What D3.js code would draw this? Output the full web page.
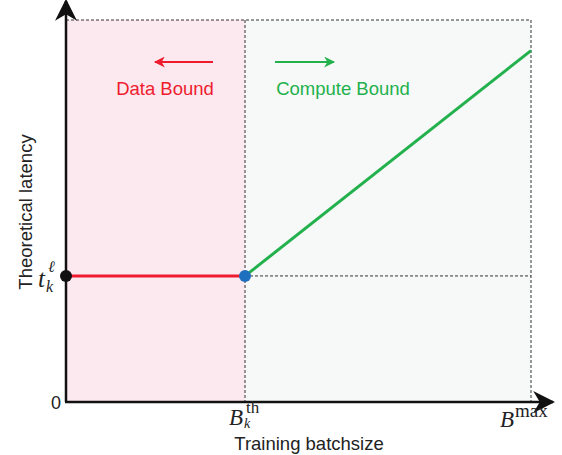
<!DOCTYPE html>
<html>
<head>
<meta charset="utf-8">
<script src="https://cdn.jsdelivr.net/npm/d3@7"></script>
<style>
  body { margin: 0; background: #fff; }
  text { font-family: Arial, "Liberation Sans", sans-serif; }
  .math { font-family: "Liberation Serif", "DejaVu Serif", serif; fill: #222; }
</style>
</head>
<body>
<svg width="562" height="455"></svg>
<script>
// batchsize positions (B_th, B_max) and latency levels
const batchTicks = [38.5, 100]
const latencyFlat = 33
const dataBound = [[0, latencyFlat], [38.5, latencyFlat]]
const computeBound = [[38.5, latencyFlat], [100, 92]]
const yTop = 100

const svg = d3.select('svg')
const x = d3.scaleLinear().domain([0, 100]).range([66, 531])
const y = d3.scaleLinear().domain([0, yTop]).range([402, 20])

const red = '#ee1c2e', green = '#22b14c', blue = '#1f6fbf'

// background regions
svg.append('rect')
	.attr('x', x(0)).attr('y', y(yTop))
	.attr('width', x(batchTicks[0]) - x(0))
	.attr('height', y(0) - y(yTop))
	.attr('fill', '#fce8ef')
svg.append('rect')
	.attr('x', x(batchTicks[0])).attr('y', y(yTop))
	.attr('width', x(batchTicks[1]) - x(batchTicks[0]))
	.attr('height', y(0) - y(yTop))
	.attr('fill', '#f7f9f9')

// dashed guides
const dashed = [
	[[0, yTop], [100, yTop]],
	[[100, yTop], [100, 0]],
	[[batchTicks[0], yTop], [batchTicks[0], 0]],
	[[batchTicks[0], latencyFlat], [100, latencyFlat]]
]
svg.selectAll('.guide')
	.data(dashed)
	.enter()
	.append('line')
	.attr('x1', d => x(d[0][0])).attr('y1', d => y(d[0][1]))
	.attr('x2', d => x(d[1][0])).attr('y2', d => y(d[1][1]))
	.attr('stroke', '#333')
	.attr('stroke-width', 1)
	.attr('stroke-dasharray', '3,2')

// arrowheads
const defs = svg.append('defs')
function marker(id, color, w, h) {
	defs.append('marker')
		.attr('id', id)
		.attr('viewBox', '0 0 10 10')
		.attr('refX', 9).attr('refY', 5)
		.attr('markerWidth', w).attr('markerHeight', h)
		.attr('markerUnits', 'userSpaceOnUse')
		.attr('orient', 'auto')
		.append('path')
		.attr('d', 'M0,0 L10,5 L0,10 L3,5 Z')
		.attr('fill', color)
}
marker('axisArrow', '#111', 22, 22)
marker('redArrow', red, 12, 11)
marker('greenArrow', green, 12, 11)

// axes
svg.append('line')
	.attr('x1', x(0)).attr('y1', y(0))
	.attr('x2', x(0)).attr('y2', 1)
	.attr('stroke', '#111').attr('stroke-width', 2.5)
	.attr('marker-end', 'url(#axisArrow)')
svg.append('line')
	.attr('x1', x(0) - 1).attr('y1', y(0))
	.attr('x2', 553).attr('y2', y(0))
	.attr('stroke', '#111').attr('stroke-width', 2.5)
	.attr('marker-end', 'url(#axisArrow)')

// lines
const line = d3.line().x(d => x(d[0])).y(d => y(d[1]))
svg.append('path').datum(dataBound)
	.attr('d', line).attr('fill', 'none')
	.attr('stroke', red).attr('stroke-width', 3)
svg.append('path').datum(computeBound)
	.attr('d', line).attr('fill', 'none')
	.attr('stroke', green).attr('stroke-width', 3)

svg.append('circle')
	.attr('cx', x(0)).attr('cy', y(latencyFlat)).attr('r', 6)
	.attr('fill', '#111')
svg.append('circle')
	.attr('cx', x(batchTicks[0])).attr('cy', y(latencyFlat)).attr('r', 6)
	.attr('fill', blue)

// region labels with arrows
svg.append('line')
	.attr('x1', 213).attr('y1', 62).attr('x2', 155).attr('y2', 62)
	.attr('stroke', red).attr('stroke-width', 2.2)
	.attr('marker-end', 'url(#redArrow)')
svg.append('text')
	.attr('x', 165).attr('y', 95)
	.attr('text-anchor', 'middle')
	.attr('font-size', 18.5).attr('fill', red)
	.text('Data Bound')
svg.append('line')
	.attr('x1', 275).attr('y1', 62).attr('x2', 334).attr('y2', 62)
	.attr('stroke', green).attr('stroke-width', 2.2)
	.attr('marker-end', 'url(#greenArrow)')
svg.append('text')
	.attr('x', 343).attr('y', 95)
	.attr('text-anchor', 'middle')
	.attr('font-size', 18.5).attr('fill', green)
	.text('Compute Bound')

// tick labels
svg.append('text')
	.attr('x', 56).attr('y', 409)
	.attr('text-anchor', 'middle')
	.attr('font-size', 18).attr('fill', '#222')
	.text('0')

// math label parts: [text, x, baseline, size, italic]
function math(parts) {
	parts.forEach(p => {
		svg.append('text').attr('class', 'math')
			.attr('x', p[1]).attr('y', p[2])
			.attr('font-size', p[3])
			.attr('font-style', p[4] ? 'italic' : 'normal')
			.text(p[0])
	})
}
math([['t', 38, 287, 25, true], ['k', 46, 292, 16, true], ['ℓ', 48, 272, 16, true]])
math([['B', 229, 425, 23, true], ['k', 244, 428, 14, true], ['th', 246, 413, 17, false]])
math([['B', 500, 427, 23, true], ['max', 515, 417, 19, false]])

// axis titles
svg.append('text')
	.attr('x', 309).attr('y', 450)
	.attr('text-anchor', 'middle')
	.attr('font-size', 18.5).attr('fill', '#222')
	.text('Training batchsize')
svg.append('text')
	.attr('transform', 'translate(32,212) rotate(-90)')
	.attr('text-anchor', 'middle')
	.attr('font-size', 18.5).attr('fill', '#222')
	.text('Theoretical latency')
</script>
</body>
</html>
